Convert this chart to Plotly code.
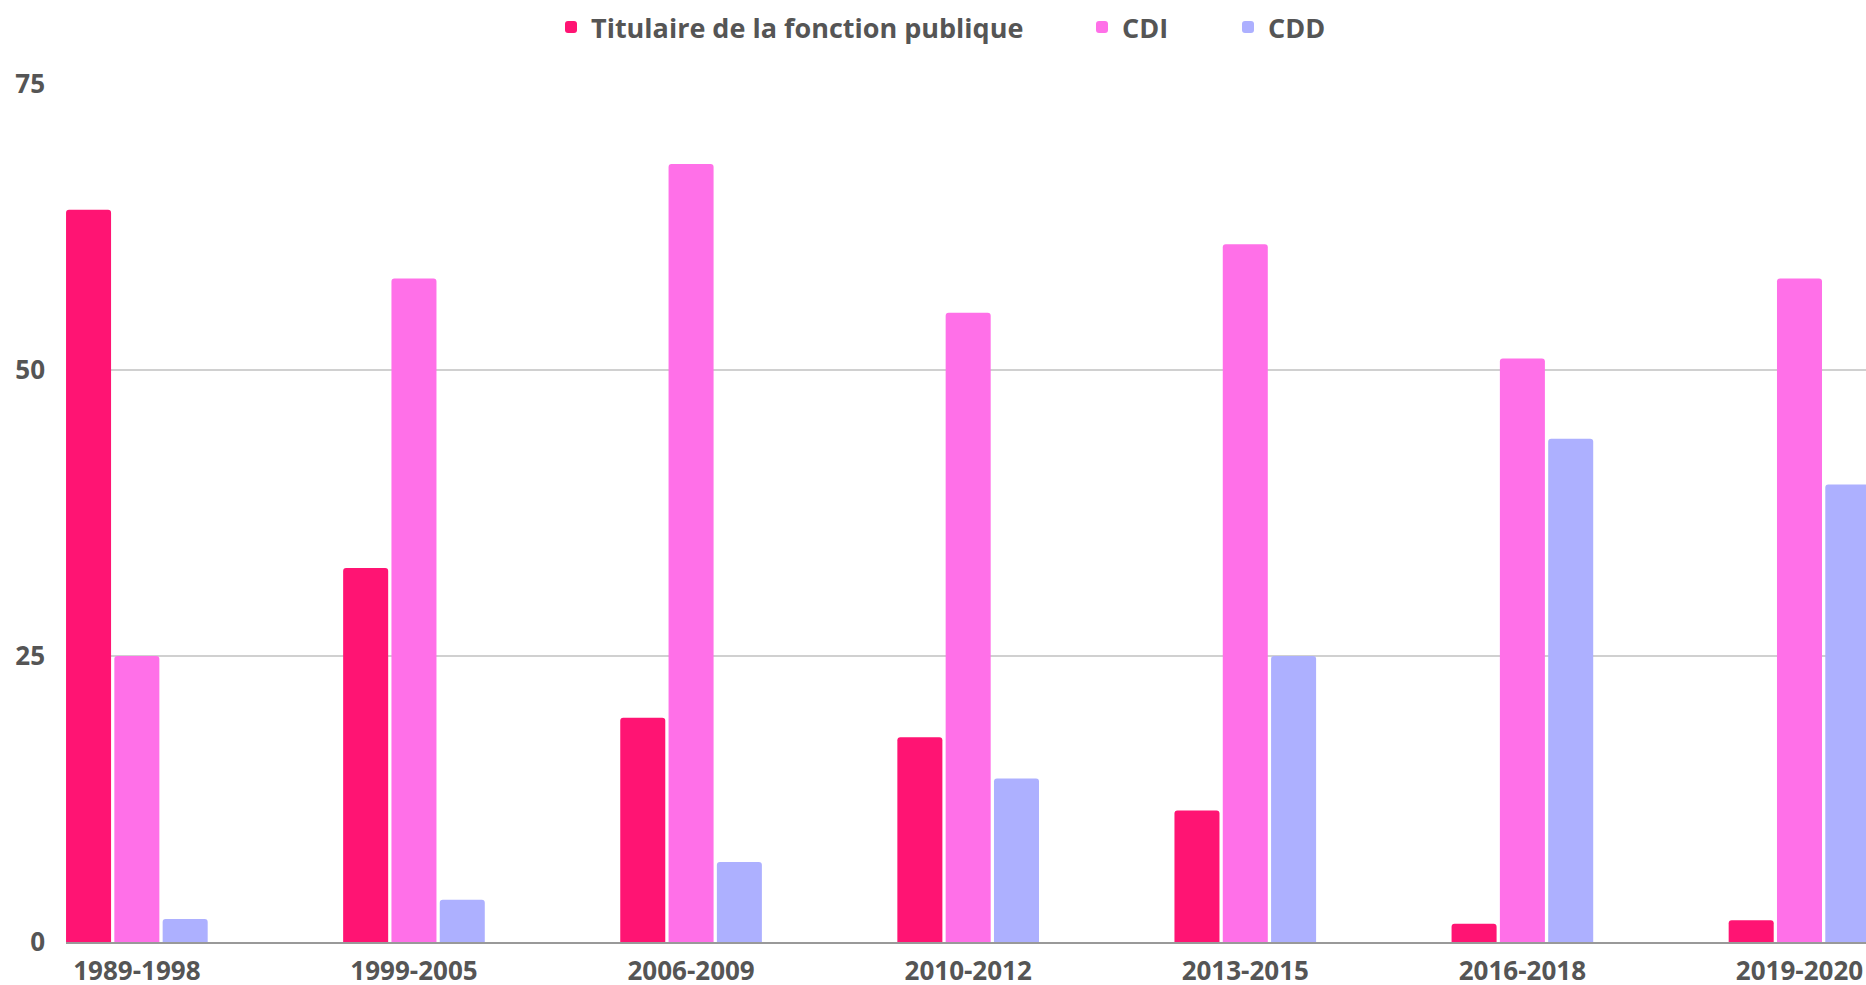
import plotly.graph_objects as go

categories = ["1989-1998", "1999-2005", "2006-2009", "2010-2012", "2013-2015", "2016-2018", "2019-2020"]
titulaire = [64, 32.7, 19.6, 17.9, 11.5, 1.6, 1.9]
cdi = [25, 58, 68, 55, 61, 51, 58]
cdd = [2.0, 3.7, 7.0, 14.3, 25, 44, 40]
y_ticks = [0, 25, 50, 75]

series = [
    ("Titulaire de la fonction publique", titulaire, "#FF1473", "legend"),
    ("CDI", cdi, "#FF70E8", "legend2"),
    ("CDD", cdd, "#ADB0FF", "legend3"),
]

W, H = 1866, 985
ML, MR, MT, MB = 66, 0, 84, 43
font_family = "Open Sans"
text_color = "#555555"

fig = go.Figure()
for name, vals, color, leg in series:
    fig.add_trace(go.Bar(x=categories, y=vals, name=name, legend=leg,
                         marker=dict(color=color, line=dict(width=0))))

def legend_at(px_left):
    return dict(orientation="h", x=(px_left - ML) / (W - ML - MR), xanchor="left",
                y=1 - 3 / H, yref="container", yanchor="top",
                bgcolor="rgba(0,0,0,0)", borderwidth=0,
                font=dict(family=font_family, size=27, color=text_color, weight="bold"),
                itemwidth=30)

fig.update_layout(
    width=W, height=H,
    paper_bgcolor="white", plot_bgcolor="white",
    margin=dict(l=ML, r=MR, t=MT, b=MB, autoexpand=False),
    barmode="group", bargap=0.477, bargroupgap=0.068, barcornerradius=3,
    font=dict(family=font_family, size=26, color=text_color, weight="bold"),
    legend=legend_at(551),
    legend2=legend_at(1082),
    legend3=legend_at(1228),
    showlegend=True,
)
fig.update_xaxes(
    type="category", range=[-0.2557, 6.240], automargin=False,
    showgrid=False, showline=True, linecolor="#999999", linewidth=2,
    ticks="", ticklabelstandoff=5,
    tickfont=dict(family=font_family, size=26, color=text_color, weight="bold"),
)
fig.update_yaxes(
    range=[0, 75], tickvals=y_ticks, ticktext=[str(v) for v in y_ticks], automargin=False,
    showgrid=True, gridcolor="#D0D0D0", gridwidth=1.5,
    zeroline=False, showline=False, ticks="", ticklabelstandoff=20,
    tickfont=dict(family=font_family, size=26, color=text_color, weight="bold"),
)
fig.write_html(
    "out.html",
    config={"displayModeBar": False},
    post_script="document.body.style.margin='0';document.body.style.overflow='hidden';",
)
